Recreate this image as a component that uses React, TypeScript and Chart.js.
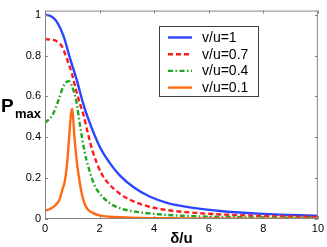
import React, { useEffect, useRef } from "react";
import { Chart, registerables } from "chart.js";

Chart.register(...registerables);

const xTicks = [0, 2, 4, 6, 8, 10];
const xTickLabels = ["0", "2", "4", "6", "8", "10"];
const yTicks = [0, 0.2, 0.4, 0.6, 0.8, 1];
const yTickLabels = ["0", "0.2", "0.4", "0.6", "0.8", "1"];
const seriesLabels = ["v/u=1", "v/u=0.7", "v/u=0.4", "v/u=0.1"];
const xTitle = "δ/u";
const yTitleMain = "P";
const yTitleSub = "max";

// v/u = 1
const deltaA = [0, 0.25, 0.43, 0.68, 0.92, 1.16, 1.41, 1.6, 2.0, 2.37, 2.73, 3.3, 3.83, 4.5, 5.5, 6.5, 8, 10];
const pA = [1, 0.99, 0.966, 0.895, 0.785, 0.682, 0.56, 0.485, 0.355, 0.275, 0.215, 0.15, 0.11, 0.078, 0.053, 0.038, 0.025, 0.015];
// v/u = 0.7
const deltaB = [0, 0.35, 0.5, 0.62, 0.8, 0.98, 1.16, 1.29, 1.41, 1.57, 1.75, 2.06, 2.37, 2.73, 3.1, 3.83, 4.5, 5.5, 6.5, 8, 10];
const pB = [0.88, 0.875, 0.862, 0.845, 0.785, 0.714, 0.62, 0.56, 0.51, 0.42, 0.33, 0.225, 0.168, 0.125, 0.095, 0.06, 0.043, 0.03, 0.022, 0.015, 0.01];
// v/u = 0.4
const deltaC = [0, 0.28, 0.49, 0.68, 0.86, 1.05, 1.17, 1.27, 1.45, 1.6, 1.8, 2.0, 2.37, 2.73, 3.3, 4, 5, 6.5, 8, 10];
const pC = [0.47, 0.51, 0.58, 0.651, 0.675, 0.627, 0.56, 0.47, 0.33, 0.25, 0.17, 0.125, 0.078, 0.054, 0.036, 0.025, 0.016, 0.01, 0.007, 0.005];
// v/u = 0.1
const deltaD = [0, 0.2, 0.4, 0.53, 0.65, 0.72, 0.8, 0.84, 0.9, 0.95, 1.0, 1.05, 1.08, 1.15, 1.2, 1.33, 1.5, 1.75, 2, 3, 5, 10];
const pD = [0.04, 0.05, 0.07, 0.095, 0.15, 0.18, 0.26, 0.32, 0.43, 0.51, 0.54, 0.46, 0.4, 0.3, 0.245, 0.135, 0.06, 0.03, 0.018, 0.008, 0.003, 0.001];

const colors = ["#2a46ff", "#ff1a1a", "#1fa51f", "#ff6a10"];
const dashes: number[][] = [[], [5, 3], [5, 2.5, 1.5, 2.5], []];

const FONT = "'Liberation Sans', Arial, Helvetica, sans-serif";

function pairs(xs: number[], ys: number[]) {
  return xs.map((x, i) => ({ x, y: ys[i] }));
}

const overlay = {
  id: "matlabOverlay",
  afterDatasetsDraw(chart: any) {
    const { ctx, chartArea, scales } = chart;
    const { left, right, top, bottom } = chartArea;
    const xs = scales.x;
    const ys = scales.y;
    ctx.save();
    ctx.setLineDash([]);
    ctx.strokeStyle = "#858585";
    ctx.lineWidth = 1;
    ctx.strokeRect(left + 0.5, top + 0.5, right - left - 1, bottom - top - 1);
    const tl = 3;
    ctx.beginPath();
    xTicks.forEach((v) => {
      const px = Math.round(xs.getPixelForValue(v)) + 0.5;
      ctx.moveTo(px, bottom);
      ctx.lineTo(px, bottom - tl);
      ctx.moveTo(px, top);
      ctx.lineTo(px, top + tl);
    });
    yTicks.forEach((v) => {
      const py = Math.round(ys.getPixelForValue(v)) + 0.5;
      ctx.moveTo(left, py);
      ctx.lineTo(left + tl, py);
      ctx.moveTo(right, py);
      ctx.lineTo(right - tl, py);
    });
    ctx.stroke();

    // legend
    const bx = 159.5, by = 26.5, bw = 99, bh = 70;
    ctx.fillStyle = "#ffffff";
    ctx.fillRect(bx, by, bw, bh);
    ctx.strokeStyle = "#404040";
    ctx.strokeRect(bx, by, bw, bh);
    ctx.font = `14px ${FONT}`;
    ctx.textBaseline = "middle";
    ctx.textAlign = "left";
    seriesLabels.forEach((lab, i) => {
      const yy = 37.5 + i * 16.7;
      ctx.strokeStyle = colors[i];
      ctx.lineWidth = 2.4;
      ctx.setLineDash(dashes[i]);
      ctx.beginPath();
      ctx.moveTo(168, yy);
      ctx.lineTo(192, yy);
      ctx.stroke();
      ctx.setLineDash([]);
      ctx.fillStyle = "#000000";
      ctx.fillText(lab, 202, yy + 0.5);
    });

    // axis titles
    ctx.fillStyle = "#000000";
    ctx.textBaseline = "alphabetic";
    ctx.textAlign = "center";
    ctx.font = `bold 15px ${FONT}`;
    ctx.fillText(xTitle, (left + right) / 2, 243);
    ctx.textAlign = "left";
    ctx.font = `bold 19px ${FONT}`;
    ctx.fillText(yTitleMain, 1, 112);
    ctx.font = `bold 13px ${FONT}`;
    ctx.fillText(yTitleSub, 15, 118);
    ctx.restore();
  },
};

export default function App() {
  const ref = useRef<HTMLCanvasElement | null>(null);
  useEffect(() => {
    document.body.style.margin = "0";
    if (!ref.current) return;
    const mk = (i: number, xs: number[], ys: number[], order: number) => ({
      label: seriesLabels[i],
      data: pairs(xs, ys),
      borderColor: colors[i],
      backgroundColor: colors[i],
      borderWidth: 2.4,
      borderDash: dashes[i],
      pointRadius: 0,
      fill: false,
      cubicInterpolationMode: "monotone" as const,
      order,
    });
    const chart = new Chart(ref.current, {
      type: "line",
      data: {
        datasets: [
          mk(0, deltaA, pA, 3),
          mk(1, deltaB, pB, 2),
          mk(2, deltaC, pC, 1),
          mk(3, deltaD, pD, 0),
        ],
      },
      options: {
        animation: false,
        responsive: false,
        devicePixelRatio: 1,
        layout: { padding: { top: 4, right: 9, left: 0, bottom: 0 } },
        plugins: { legend: { display: false }, tooltip: { enabled: false } },
        scales: {
          x: {
            type: "linear",
            min: 0,
            max: 10,
            grid: { display: false, drawTicks: false },
            border: { display: false },
            afterBuildTicks: (s: any) => {
              s.ticks = xTicks.map((v) => ({ value: v }));
            },
            afterFit: (s: any) => {
              s.height = 28;
            },
            ticks: {
              color: "#000",
              font: { family: FONT, size: 11 },
              padding: 3,
              maxRotation: 0,
              autoSkip: false,
              callback: (v: any) => xTickLabels[xTicks.indexOf(Number(v))] ?? "",
            },
          },
          y: {
            type: "linear",
            min: 0,
            max: 1.02,
            grid: { display: false, drawTicks: false },
            border: { display: false },
            afterBuildTicks: (s: any) => {
              s.ticks = yTicks.map((v) => ({ value: v }));
            },
            afterFit: (s: any) => {
              s.width = 45;
            },
            ticks: {
              color: "#000",
              font: { family: FONT, size: 11 },
              padding: 4,
              autoSkip: false,
              callback: (v: any) => {
                const i = yTicks.findIndex((t) => Math.abs(t - Number(v)) < 1e-9);
                return i >= 0 ? yTickLabels[i] : "";
              },
            },
          },
        },
      },
      plugins: [overlay],
    });
    return () => chart.destroy();
  }, []);
  return (
    <div style={{ width: 327, height: 247, background: "#fff" }}>
      <canvas ref={ref} width={327} height={247} style={{ display: "block", width: 327, height: 247 }} />
    </div>
  );
}
